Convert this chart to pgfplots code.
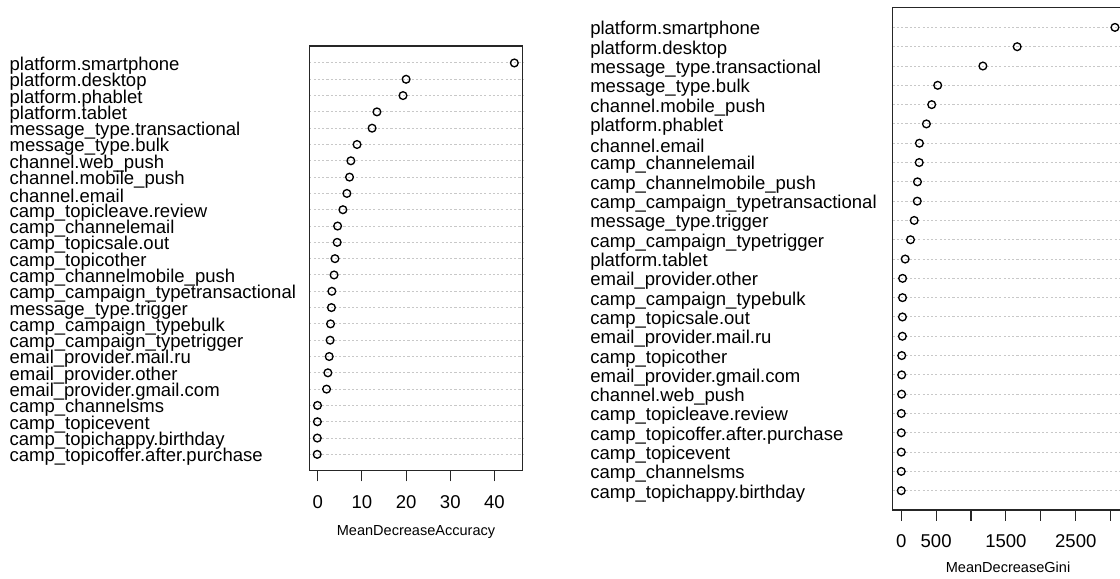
\documentclass[border=0pt]{standalone}
\usepackage{pgfplots}
\pgfplotsset{compat=1.18}
\usepackage{fontspec}
\setmainfont{Liberation Sans}

\definecolor{gridgray}{RGB}{200,200,200}

\pgfplotsset{
  dotchart/.style={
    scale only axis,
    axis line style={black!85, line width=0.8pt},
    ymin=0, ymax=26.04,
    ytick={1,...,25},
    ymajorgrids,
    major grid style={gridgray, line width=0.7pt, dash pattern=on 1.6pt off 1.6pt},
    ytick style={draw=none},
    tick align=outside,
    major tick length=8pt,
    xtick style={black!85, line width=0.8pt},
    axis x line*=bottom, axis y line*=left,
    x axis line style={-},
    y axis line style={-},
    yticklabel style={anchor=west, inner sep=0pt, yshift=-2pt,
      font=\fontsize{13.9}{16}\selectfont, text=black},
    xticklabel style={font=\fontsize{13.9}{16}\selectfont, text=black, yshift=-7pt},
    xlabel style={font=\fontsize{10.9}{13}\selectfont, anchor=base},
    clip=false,
  },
  dotmarks/.style={only marks, mark=o, mark size=2.9pt, mark options={black, line width=1pt}},
}

\begin{document}
\begin{tikzpicture}
\path[use as bounding box] (0,0) rectangle (840pt,433.5pt);

% MeanDecreaseAccuracy panel
\begin{axis}[dotchart,
  at={(232pt,80.5pt)}, anchor=south west,
  width=160.05pt, height=318.5pt,
  xmin=-1.9, xmax=46.4,
  xtick={0,10,20,30,40}, xticklabels={0,10,20,30,40},
  yticklabel style={xshift=-217pt},
  yticklabels={camp\_topicoffer.after.purchase, camp\_topichappy.birthday, camp\_topicevent, camp\_channelsms,
    email\_provider.gmail.com, email\_provider.other, email\_provider.mail.ru, camp\_campaign\_typetrigger,
    camp\_campaign\_typebulk, message\_type.trigger, camp\_campaign\_typetransactional, camp\_channelmobile\_push,
    camp\_topicother, camp\_topicsale.out, camp\_channelemail, camp\_topicleave.review, channel.email,
    channel.mobile\_push, channel.web\_push, message\_type.bulk, message\_type.transactional,
    platform.tablet, platform.phablet, platform.desktop, platform.smartphone},
  xlabel={MeanDecreaseAccuracy},
  xlabel style={at={(axis description cs:0.5,0)}, yshift=-48.4pt},
  ]
  % always draw the frame on top
  \draw[black!85, line width=0.8pt] (rel axis cs:0,0) rectangle (rel axis cs:1,1);
  \addplot[dotmarks] coordinates {
    (44.5,25) (20.0,24) (19.3,23) (13.4,22) (12.3,21) (8.9,20) (7.5,19) (7.2,18)
    (6.6,17) (5.7,16) (4.5,15) (4.4,14) (3.9,13) (3.7,12) (3.2,11) (3.1,10)
    (2.9,9) (2.8,8) (2.6,7) (2.3,6) (2.0,5) (-0.05,4) (-0.08,3) (-0.1,2) (-0.12,1)
  };
\end{axis}

% MeanDecreaseGini panel
\begin{axis}[dotchart,
  at={(669.5pt,51pt)}, anchor=south west,
  width=173.1pt, height=377pt,
  xmin=-122, xmax=3183,
  xtick={0,500,...,3000}, xticklabels={0,500,,1500,,2500,},
  yticklabel style={xshift=-219pt},
  yticklabels={camp\_topichappy.birthday, camp\_channelsms, camp\_topicevent, camp\_topicoffer.after.purchase,
    camp\_topicleave.review, channel.web\_push, email\_provider.gmail.com, camp\_topicother,
    email\_provider.mail.ru, camp\_topicsale.out, camp\_campaign\_typebulk, email\_provider.other,
    platform.tablet, camp\_campaign\_typetrigger, message\_type.trigger, camp\_campaign\_typetransactional,
    camp\_channelmobile\_push, camp\_channelemail, channel.email, platform.phablet, channel.mobile\_push,
    message\_type.bulk, message\_type.transactional, platform.desktop, platform.smartphone},
  xlabel={MeanDecreaseGini},
  xlabel style={at={(axis description cs:0.5,0)}, yshift=-46.9pt},
  ]
  \draw[black!85, line width=0.8pt] (rel axis cs:0,0) rectangle (rel axis cs:1,1);
  \addplot[dotmarks] coordinates {
    (3061,25) (1661,24) (1170,23) (523,22) (437,21) (361,20) (261,19) (258,18)
    (233,17) (230,16) (186,15) (133,14) (57,13) (20,12) (19,11) (18,10)
    (17,9) (8,8) (7,7) (6,6) (1.5,5) (1.2,4) (1.0,3) (0.8,2) (0.5,1)
  };
\end{axis}
\end{tikzpicture}
\end{document}
